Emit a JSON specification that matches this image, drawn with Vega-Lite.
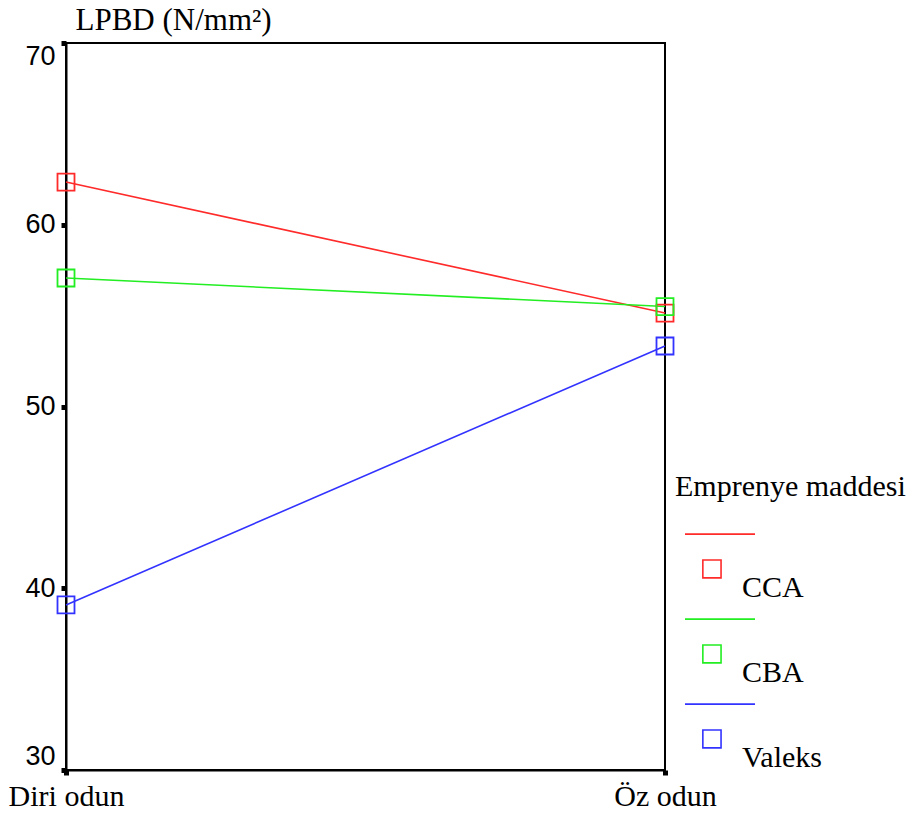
{
  "$schema": "https://vega.github.io/schema/vega-lite/v6.json",
  "autosize": {"type": "none"},
  "padding": {"left": 66, "top": 43, "right": 258, "bottom": 50},
  "width": 599,
  "height": 727,
  "background": "white",
  "config": {
    "view": {"stroke": "black", "strokeWidth": 2},
    "axis": {"grid": false, "domainColor": "black", "domainWidth": 2, "tickColor": "black", "tickSize": 5, "tickWidth": 5, "labelColor": "black", "titleColor": "black"}
  },
  "data": {
    "values": [
      {"odun": "Diri odun", "madde": "CCA", "lpbd": 62.35},
      {"odun": "Öz odun", "madde": "CCA", "lpbd": 55.14},
      {"odun": "Diri odun", "madde": "CBA", "lpbd": 57.07},
      {"odun": "Öz odun", "madde": "CBA", "lpbd": 55.5},
      {"odun": "Diri odun", "madde": "Valeks", "lpbd": 39.08},
      {"odun": "Öz odun", "madde": "Valeks", "lpbd": 53.33}
    ]
  },
  "encoding": {
    "x": {
      "field": "odun", "type": "nominal", "sort": ["Diri odun", "Öz odun"],
      "scale": {"type": "point", "padding": 0},
      "axis": {"title": null, "labelAngle": 0, "labelFont": "Liberation Serif", "labelFontSize": 30, "labelPadding": 6, "labelAlign": "center"}
    },
    "y": {
      "field": "lpbd", "type": "quantitative",
      "scale": {"domain": [30, 70], "nice": false, "zero": false},
      "axis": {"values": [30, 40, 50, 60, 70], "title": "LPBD (N/mm²)", "titleFont": "Liberation Serif", "titleFontSize": 31, "titleFontWeight": "normal", "titleAngle": 0, "titleAlign": "left", "titleBaseline": "middle", "titleX": 9, "titleY": -23, "titleLimit": 400, "labelFont": "Liberation Sans", "labelFontSize": 27, "labelPadding": 6, "labelFlush": true}
    },
    "color": {
      "field": "madde", "type": "nominal", "sort": ["CCA", "CBA", "Valeks"],
      "scale": {"domain": ["CCA", "CBA", "Valeks"], "range": ["#ff2a2a", "#22ee22", "#3333ff"]},
      "legend": {
        "title": "Emprenye maddesi", "orient": "none", "legendX": 609, "legendY": 429,
        "titleFont": "Liberation Serif", "titleFontSize": 30, "titleFontWeight": "normal", "titleColor": "black", "titlePadding": 50, "titleLimit": 400,
        "labelFont": "Liberation Serif", "labelFontSize": 30, "labelColor": "black", "labelOffset": -14, "labelLimit": 200,
        "symbolType": "M-1,-1.54H1M-0.49,-0.8H0.03V-0.29H-0.49Z", "symbolSize": 4900, "symbolStrokeWidth": 1.6, "symbolFillColor": "transparent", "symbolOffset": 9,
        "rowPadding": 12
      }
    }
  },
  "layer": [
    {"mark": {"type": "line", "strokeWidth": 1.6}},
    {"mark": {"type": "point", "shape": "square", "filled": false, "size": 289, "strokeWidth": 1.8, "opacity": 1}}
  ]
}
